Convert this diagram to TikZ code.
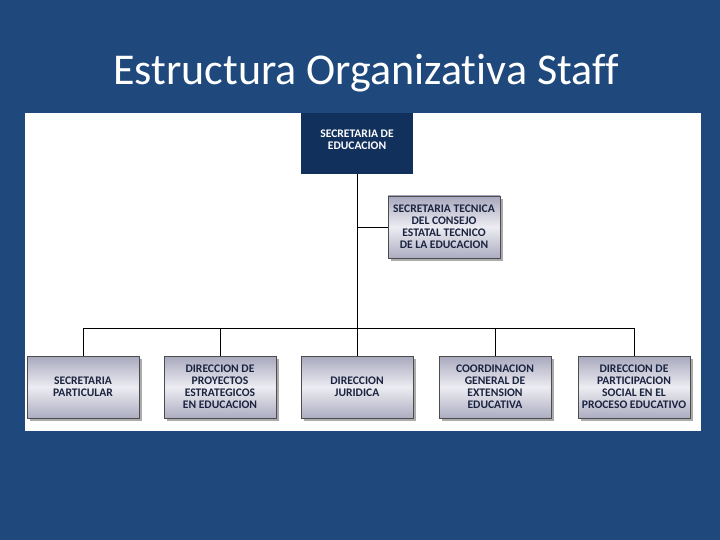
\documentclass[tikz,border=0pt]{standalone}
\usepackage{fontspec}
\setmainfont[Ligatures=NoCommon]{Carlito}
\usetikzlibrary{shadows}
\definecolor{bgblue}{HTML}{1F497D}
\definecolor{navy}{HTML}{12305C}
\definecolor{boxtxt}{HTML}{1A2440}
\definecolor{gtop}{HTML}{A8A8BE}
\definecolor{gmid}{HTML}{ECECF2}
\definecolor{gbot}{HTML}{ADADC2}
\tikzset{
  orgbox/.style={draw=black!70, line width=0.6pt, minimum width=112pt, minimum height=62pt,
    top color=gtop, bottom color=gbot, middle color=gmid, inner sep=1pt,
    align=center, font=\fontsize{11.6}{12}\selectfont\bfseries, text=boxtxt,
    drop shadow={shadow xshift=3pt, shadow yshift=-3pt, fill=black!55, opacity=0.6}},
  headbox/.style={fill=navy, minimum width=112pt, minimum height=61pt, align=center,
    font=\fontsize{11.6}{13}\selectfont\bfseries, text=white},
  conn/.style={draw=black, line width=0.8pt}
}
\begin{document}
\begin{tikzpicture}[x=1pt,y=-1pt]
\fill[bgblue] (0,0) rectangle (720,540);
\useasboundingbox (0,0) rectangle (720,540);
\fill[white] (25,113) rectangle (701,431);
\node[text=white, font=\fontsize{44}{48}\selectfont] (title) at (366,73) {Estructura Organizativa Staff};
\node[headbox] (se) at (357,143.5) {\raisebox{0pt}[0pt][0pt]{\begin{tabular}{@{}c@{}}SECRETARIA DE\\[-1pt]EDUCACION\end{tabular}}};
\node[orgbox] (st) at (444,227) {\raisebox{-4pt}[0pt][0pt]{\begin{tabular}{@{}c@{}}SECRETARIA TECNICA\\DEL CONSEJO\\ESTATAL TECNICO\\DE LA EDUCACION\end{tabular}}};
\node[orgbox] (b1) at (83,387) {SECRETARIA\\PARTICULAR};
\node[orgbox] (b2) at (220,387) {DIRECCION DE\\PROYECTOS\\ESTRATEGICOS\\EN EDUCACION};
\node[orgbox] (b3) at (357,387) {DIRECCION\\JURIDICA};
\node[orgbox] (b4) at (495,387) {COORDINACION\\GENERAL DE\\EXTENSION\\EDUCATIVA};
\node[orgbox] (b5) at (634,387) {DIRECCION DE\\PARTICIPACION\\SOCIAL EN EL\\PROCESO EDUCATIVO};
\coordinate (bus) at (357,328);
\coordinate (tj) at (357,227);
\draw[conn] (se.south) -- (bus);
\draw[conn] (tj) -- (st.west);
\draw[conn] (b1.north) -- (b1.north |- bus) -- (b5.north |- bus) -- (b5.north);
\draw[conn] (b2.north) -- (b2.north |- bus);
\draw[conn] (b3.north) -- (bus);
\draw[conn] (b4.north) -- (b4.north |- bus);
\end{tikzpicture}
\end{document}
